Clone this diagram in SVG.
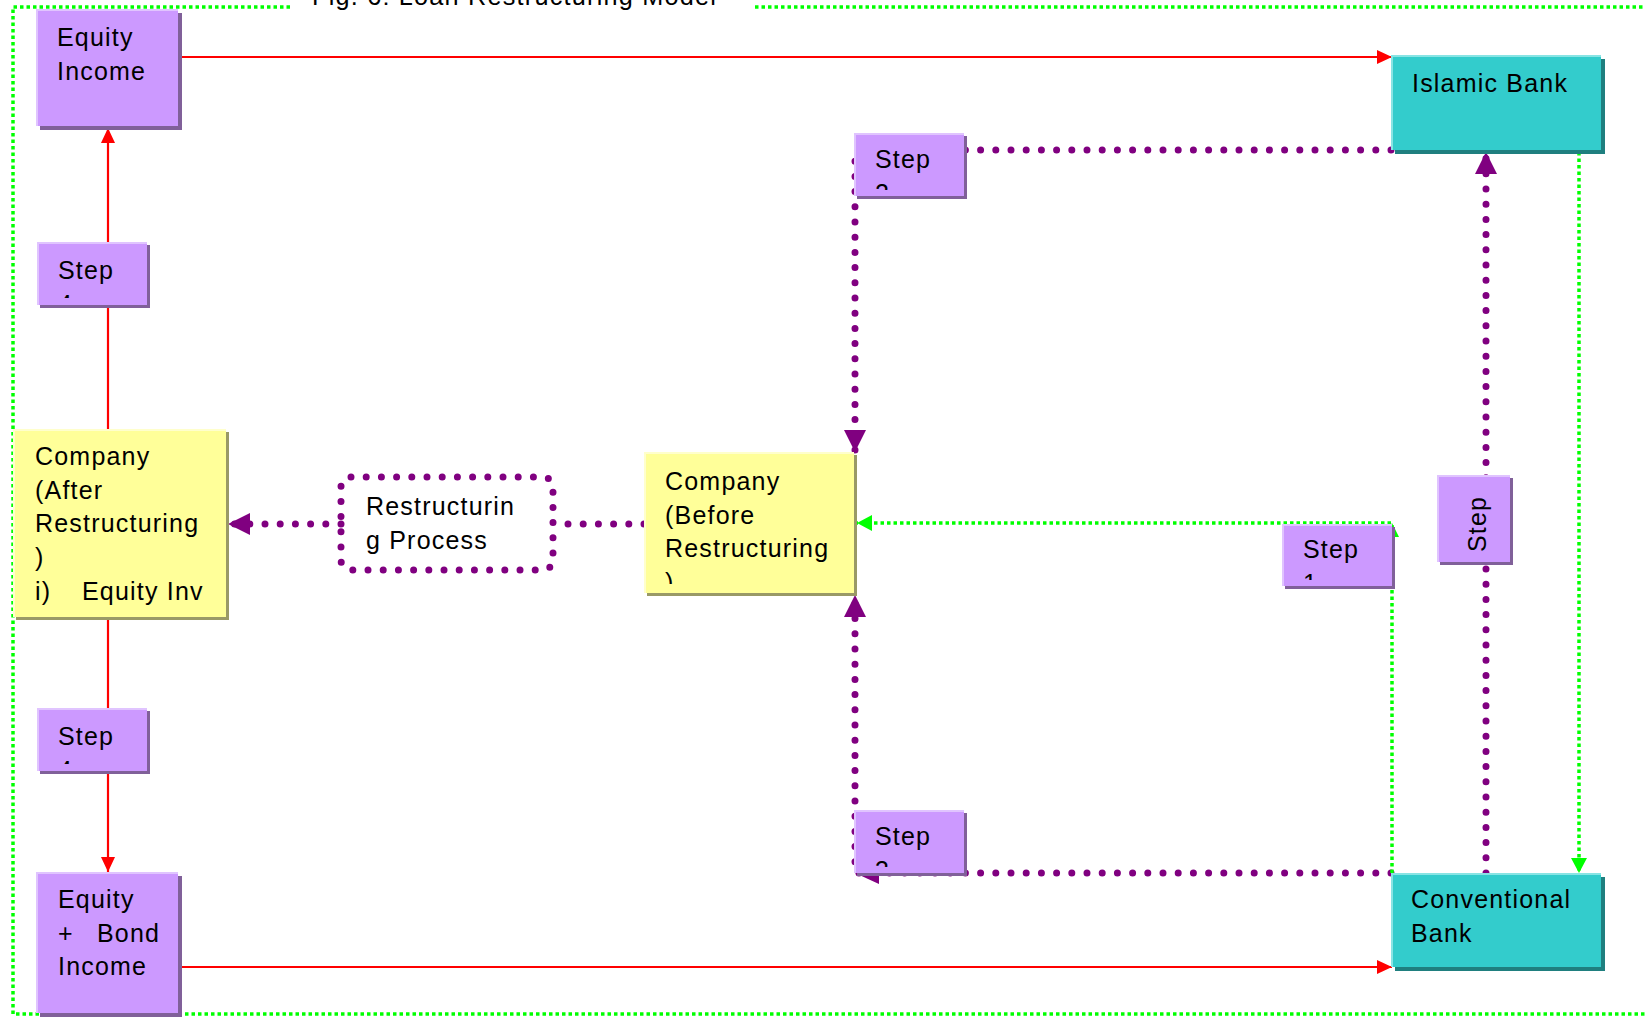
<svg xmlns="http://www.w3.org/2000/svg" width="1645" height="1017" viewBox="0 0 1645 1017">
<style>
text{font-family:"Liberation Sans",Arial,sans-serif;font-size:25px;letter-spacing:1.2px;fill:#000}
.pu{fill:#cc99ff}.pus{fill:#806099}.puh{fill:none;stroke:#e0c4ff;stroke-width:2}
.te{fill:#33cccc}.tes{fill:#1f7f7f}.teh{fill:none;stroke:#88e4e4;stroke-width:2}
.ye{fill:#ffff99}.yes{fill:#999966}.yeh{fill:none;stroke:#ffffcc;stroke-width:2}
.red{fill:none;stroke:#ff0000;stroke-width:2.2}
.dot{fill:none;stroke:#800080;stroke-width:7;stroke-dasharray:0 15.2;stroke-linecap:round}
.grn{fill:none;stroke:#00ff00;stroke-width:3.5;stroke-dasharray:3.5 3}
</style>
<defs>
<marker id="ar" markerUnits="userSpaceOnUse" markerWidth="16" markerHeight="16" refX="15" refY="7" orient="auto"><path d="M0,0 L15,7 L0,14 Z" fill="#ff0000"/></marker>
<marker id="ap" markerUnits="userSpaceOnUse" markerWidth="24" markerHeight="24" refX="22" refY="11" orient="auto"><path d="M0,0 L22,11 L0,22 Z" fill="#800080"/></marker>
<marker id="ag" markerUnits="userSpaceOnUse" markerWidth="18" markerHeight="18" refX="15" refY="8" orient="auto"><path d="M0,0 L15,8 L0,16 Z" fill="#00ff00"/></marker>
<clipPath id="c1"><rect x="37" y="242" width="110" height="56"/></clipPath>
<clipPath id="c2"><rect x="37" y="708" width="110" height="56"/></clipPath>
<clipPath id="c3"><rect x="854" y="133" width="110" height="57"/></clipPath>
<clipPath id="c4"><rect x="854" y="810" width="110" height="57"/></clipPath>
<clipPath id="c5"><rect x="1282" y="524" width="110" height="56"/></clipPath>
<clipPath id="c6"><rect x="644" y="452" width="210" height="132"/></clipPath>
</defs>

<g id="border">
<path class="grn" d="M290,7 H13 V1014 H1645 M755,7 H1645"/>
<text x="312" y="5" textLength="405" lengthAdjust="spacingAndGlyphs">Fig. 6: Loan Restructuring Model</text>
</g>

<g id="connectors">
<path class="red" d="M180,57 H1392" marker-end="url(#ar)"/>
<path class="red" d="M108,429 V128" marker-end="url(#ar)"/>
<path class="red" d="M108,619 V872" marker-end="url(#ar)"/>
<path class="red" d="M180,967 H1392" marker-end="url(#ar)"/>
<path class="dot" d="M341,524 H228" marker-end="url(#ap)"/>
<path class="dot" d="M644,524 H553"/>
<path class="dot" d="M1391,150 H855 V452" marker-end="url(#ap)"/>
<path class="dot" d="M1391,873 H855 V595" marker-end="url(#ap)"/>
<polygon points="855,873 879,862 879,884" fill="#800080"/>
<path class="dot" d="M1486,873 V152" marker-end="url(#ap)"/>
<path class="grn" d="M1579,152 V873" marker-end="url(#ag)"/>
<path class="grn" d="M1392,873 V523 H857" marker-end="url(#ag)"/>
<polygon points="1392,523 1399,537 1385,537" fill="#00ff00"/>
</g>

<g id="restructuring-process">
<rect x="341" y="477" width="212" height="93" rx="10" class="dot"/>
<text x="366" y="515">Restructurin</text>
<text x="366" y="548.5">g Process</text>
</g>

<g id="equity-income">
<rect x="40" y="13" width="142" height="117" class="pus"/>
<rect x="36" y="9" width="142" height="117" class="pu"/>
<path d="M37,126 V10 H178" class="puh"/>
<text x="57" y="46">Equity</text>
<text x="57" y="79.7">Income</text>
</g>

<g id="step-left-top">
<rect x="40" y="245" width="110" height="63" class="pus"/>
<rect x="37" y="242" width="110" height="63" class="pu"/>
<path d="M38,305 V243 H147" class="puh"/>
<text x="58" y="279">Step</text>
<text x="58" y="312.7" clip-path="url(#c1)">4</text>
</g>

<g id="company-after">
<rect x="16" y="432" width="213" height="188" class="yes"/>
<rect x="13" y="429" width="213" height="188" class="ye"/>
<path d="M14,617 V430 H226" class="yeh"/>
<text x="35" y="465">Company</text>
<text x="35" y="498.7">(After</text>
<text x="35" y="532.4">Restructuring</text>
<text x="35" y="566.1">)</text>
<text x="35" y="599.8">i)<tspan x="82">Equity Inv</tspan></text>
</g>

<g id="step-left-bottom">
<rect x="40" y="711" width="110" height="63" class="pus"/>
<rect x="37" y="708" width="110" height="63" class="pu"/>
<path d="M38,771 V709 H147" class="puh"/>
<text x="58" y="745">Step</text>
<text x="58" y="778.7" clip-path="url(#c2)">4</text>
</g>

<g id="equity-bond-income">
<rect x="40" y="876" width="142" height="141" class="pus"/>
<rect x="36" y="872" width="142" height="141" class="pu"/>
<path d="M37,1013 V873 H178" class="puh"/>
<text x="58" y="908">Equity</text>
<text x="58" y="941.7">+<tspan x="97">Bond</tspan></text>
<text x="58" y="975.4">Income</text>
</g>

<g id="company-before">
<rect x="647" y="455" width="210" height="141" class="yes"/>
<rect x="644" y="452" width="210" height="141" class="ye"/>
<path d="M645,593 V453 H854" class="yeh"/>
<g clip-path="url(#c6)">
<text x="665" y="490">Company</text>
<text x="665" y="523.7">(Before</text>
<text x="665" y="557.4">Restructuring</text>
<text x="665" y="591.1">)</text>
</g>
</g>

<g id="step-top-mid">
<rect x="857" y="136" width="110" height="63" class="pus"/>
<rect x="854" y="133" width="110" height="63" class="pu"/>
<path d="M855,196 V134 H964" class="puh"/>
<text x="875" y="168">Step</text>
<text x="875" y="201.7" clip-path="url(#c3)">2</text>
</g>

<g id="step-bottom-mid">
<rect x="857" y="813" width="110" height="63" class="pus"/>
<rect x="854" y="810" width="110" height="63" class="pu"/>
<path d="M855,873 V811 H964" class="puh"/>
<text x="875" y="845">Step</text>
<text x="875" y="878.7" clip-path="url(#c4)">3</text>
</g>

<g id="step-green">
<rect x="1285" y="527" width="110" height="62" class="pus"/>
<rect x="1282" y="524" width="110" height="62" class="pu"/>
<path d="M1283,586 V525 H1392" class="puh"/>
<text x="1303" y="558">Step</text>
<text x="1303" y="591.7" clip-path="url(#c5)">1</text>
</g>

<g id="step-rotated">
<rect x="1440" y="478" width="73" height="87" class="pus"/>
<rect x="1437" y="475" width="73" height="87" class="pu"/>
<path d="M1438,562 V476 H1510" class="puh"/>
<text transform="translate(1486,552) rotate(-90)">Step</text>
</g>

<g id="islamic-bank">
<rect x="1395" y="59" width="210" height="95" class="tes"/>
<rect x="1391" y="55" width="210" height="95" class="te"/>
<path d="M1392,150 V56 H1601" class="teh"/>
<text x="1412" y="92">Islamic Bank</text>
</g>

<g id="conventional-bank">
<rect x="1395" y="877" width="210" height="94" class="tes"/>
<rect x="1391" y="873" width="210" height="94" class="te"/>
<path d="M1392,967 V874 H1601" class="teh"/>
<text x="1411" y="908">Conventional</text>
<text x="1411" y="941.7">Bank</text>
</g>
</svg>
